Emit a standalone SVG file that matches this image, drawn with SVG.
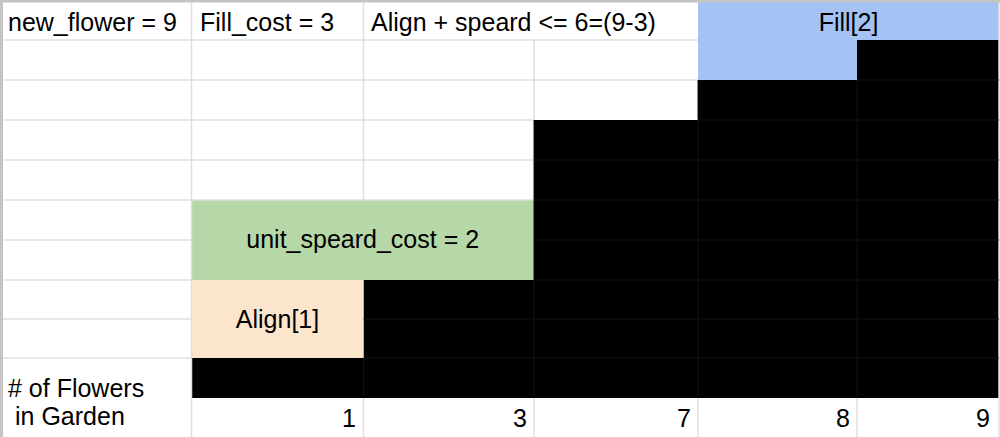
<svg xmlns="http://www.w3.org/2000/svg" width="1000" height="437" viewBox="0 0 1000 437">
<style>
.t{font-family:"Liberation Sans",Arial,sans-serif;font-size:25px;fill:#000}
.g{stroke:#e0e0e0;stroke-width:1.5;fill:none}
.d{stroke:#121212;stroke-width:1;fill:none}
.blk{fill:#000}
</style>
<rect x="0" y="0" width="1000" height="437" fill="#fff"/>
<g id="fills">
<rect x="698" y="0" width="301" height="40" fill="#a4c2f4"/>
<rect x="698" y="40" width="159" height="40" fill="#a4c2f4"/>
<rect class="blk" x="857" y="40" width="142" height="358"/>
<rect class="blk" x="698" y="80" width="159" height="318"/>
<rect class="blk" x="534" y="120" width="164" height="278"/>
<rect class="blk" x="363.5" y="280" width="170.5" height="118"/>
<rect class="blk" x="191.5" y="358" width="172" height="40"/>
<rect x="191.5" y="200" width="342.5" height="80" fill="#b6d7a8"/>
<rect x="191.5" y="280" width="172" height="78" fill="#fce5cd"/>
</g>
<g id="grid">
<path class="g" d="M191.5 0V437M363.5 0V200M534 40V120M0 40H698M0 80H698M0 120H534M0 160H534M0 200H534M0 240H191.5M0 280H191.5M0 319H191.5M0 358H191.5M363.5 398V437M534 398V437M698 398V437M857 398V437M999 0V437"/>
<path d="M1.5 0V437M0 1H1000" stroke="#c4c4c4" stroke-width="3" fill="none"/>
<path class="d" d="M534 120V398M698 80V398M857 80V398M857 80H999M698 120H999M534 160H999M534 200H999M534 240H999M534 280H999M363.5 319H999M363.5 358H999M363.5 358V398"/>
</g>
<g id="header">
<text class="t" x="8" y="30.5">new_flower = 9</text>
<text class="t" x="200" y="30.5">Fill_cost = 3</text>
<text class="t" x="371" y="30.5">Align + speard &lt;= 6=(9-3)</text>
<text class="t" x="848.5" y="30.5" text-anchor="middle">Fill[2]</text>
</g>
<g id="spread"><text class="t" x="362.7" y="248" text-anchor="middle">unit_speard_cost = 2</text></g>
<g id="align"><text class="t" x="277.5" y="327.5" text-anchor="middle">Align[1]</text></g>
<g id="axis">
<text class="t" x="8" y="397">
<tspan x="8" y="397"># of Flowers</tspan>
<tspan x="15" y="425">in Garden</tspan>
</text>
<text class="t" x="356" y="427" text-anchor="end">1</text>
<text class="t" x="527" y="427" text-anchor="end">3</text>
<text class="t" x="691" y="427" text-anchor="end">7</text>
<text class="t" x="850" y="427" text-anchor="end">8</text>
<text class="t" x="990" y="427" text-anchor="end">9</text>
</g>
</svg>
